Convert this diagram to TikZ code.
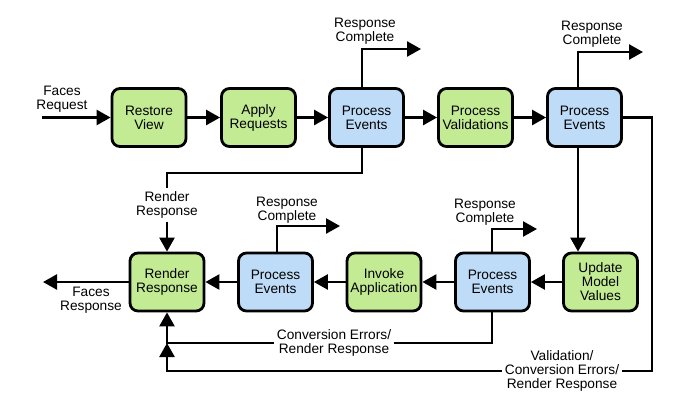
\documentclass[tikz,border=0pt]{standalone}
\usepackage{fontspec}
\setmainfont{Liberation Sans}
\usetikzlibrary{arrows.meta}
\definecolor{boxgreen}{RGB}{195,235,148}
\definecolor{boxblue}{RGB}{190,220,248}
\begin{document}
\begin{tikzpicture}[x=1pt,y=-1pt,
  stage/.style={draw=black, line width=2.8pt, rounded corners=8pt, minimum width=74pt, minimum height=58pt, align=center, inner sep=0pt, font=\fontsize{13.7}{14}\selectfont},
  gstage/.style={stage, fill=boxgreen},
  bstage/.style={stage, fill=boxblue},
  lbl/.style={align=center, inner sep=3pt, font=\fontsize{13.7}{14}\selectfont},
  wire/.style={draw=black, line width=2.5pt},
  conn/.style={wire, -{Triangle[length=14pt,width=15pt]}}]
\useasboundingbox (0,0) rectangle (685,413);
% top row
\node[gstage] (rv)  at (149,117.5)   {Restore\\View};
\node[gstage] (ar)  at (258.5,117.5) {Apply\\Requests};
\node[bstage] (pe1) at (366.5,117.5) {Process\\Events};
\node[gstage] (pv)  at (475.5,117.5) {Process\\Validations};
\node[bstage] (pe2) at (584.5,117.5) {Process\\Events};
% bottom row
\node[gstage] (rr)  at (167,282)   {Render\\Response};
\node[bstage] (pe3) at (275.5,282) {Process\\Events};
\node[gstage] (ia)  at (384,282)   {Invoke\\Application};
\node[bstage] (pe4) at (492.5,282) {Process\\Events};
\node[gstage] (umv) at (600.5,282) {Update\\Model\\Values};
% labels
\node[lbl] (freq) at (62,99)   {Faces\\Request};
\node[lbl] (fres) at (91,300)  {Faces\\Response};
\node[lbl] (rc1l) at (365,31)  {Response\\Complete};
\node[lbl] (rc2l) at (592,34)  {Response\\Complete};
\node[lbl] (rc3l) at (287,210) {Response\\Complete};
\node[lbl] (rc4l) at (485,212) {Response\\Complete};
\node[lbl] (rrl)  at (167,205) {Render\\Response};
\node[lbl] (cel)  at (334,343) {Conversion Errors/\\Render Response};
\node[lbl] (vl)   at (562,371) {Validation/\\Conversion Errors/\\Render Response};
% helper coordinates
\coordinate (fin)  at (42,117.5);
\coordinate (fout) at (43,282);
\coordinate (x1) at (362,0);
\coordinate (x2) at (578,0);
\coordinate (x3) at (277,0);
\coordinate (x4) at (492,0);
\coordinate (rc1) at (421,49);
\coordinate (rc2) at (643,52);
\coordinate (rc3) at (340,226);
\coordinate (rc4) at (537,229);
\coordinate (j2) at (652,371);
% main flow
\draw[conn] (fin) -- (rv);
\draw[conn] (rv) -- (ar);
\draw[conn] (ar) -- (pe1);
\draw[conn] (pe1) -- (pv);
\draw[conn] (pv) -- (pe2);
\draw[conn] (pe2.south -| x2) -- (umv.north -| x2);
\draw[conn] (umv) -- (pe4);
\draw[conn] (pe4) -- (ia);
\draw[conn] (ia) -- (pe3);
\draw[conn] (pe3) -- (rr);
\draw[conn] (rr) -- (fout);
% response complete
\draw[conn] (pe1.north -| x1) |- (rc1);
\draw[conn] (pe2.north -| x2) |- (rc2);
\draw[conn] (pe3.north -| x3) |- (rc3);
\draw[conn] (pe4.north -| x4) |- (rc4);
% render response from pe1
\draw[wire] (pe1.south -| x1) -- ++(0,25) -| (rrl.north);
\draw[conn] (rrl.south) -- (rr.north);
% conversion errors
\draw[wire] (pe4.south -| x4) |- (cel.east);
\draw[conn] (cel.west) -| (rr.south);
% validation errors
\draw[wire] (pe2.east) -| (j2) -- (j2 -| vl.east);
\draw[conn] (j2 -| vl.west) -| (rr.south |- cel);
\end{tikzpicture}
\end{document}
